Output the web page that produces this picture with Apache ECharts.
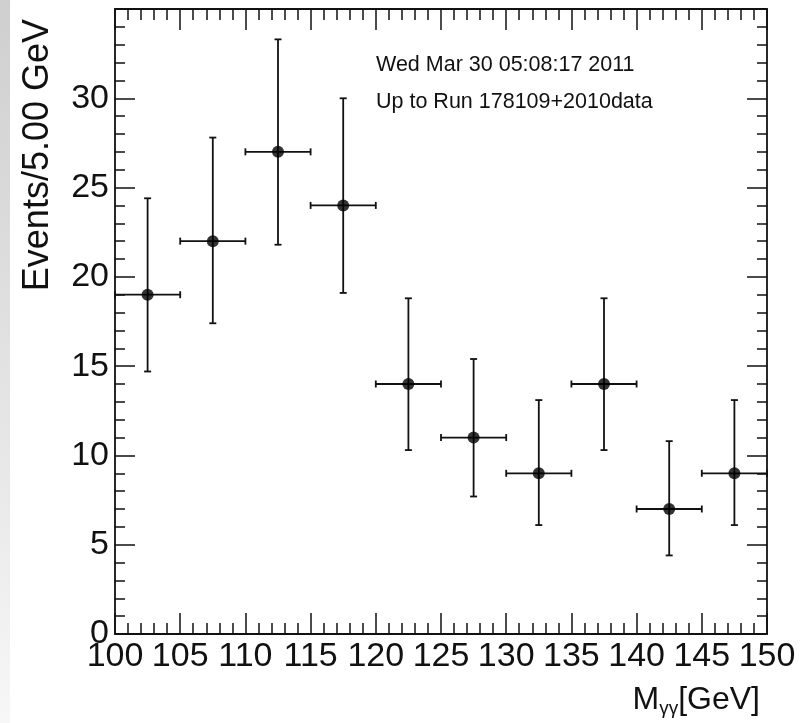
<!DOCTYPE html>
<html>
<head>
<meta charset="utf-8">
<script src="https://cdn.jsdelivr.net/npm/echarts@6/dist/echarts.min.js"></script>
<style>
  html, body { margin: 0; padding: 0; background: #fff; }
  #chart { width: 805px; height: 723px; }
</style>
</head>
<body>
<div id="chart"></div>
<script>
  // histogram bins (GeV), 5 GeV wide
  var binCenters = [102.5, 107.5, 112.5, 117.5, 122.5, 127.5, 132.5, 137.5, 142.5, 147.5]
  var counts     = [19, 22, 27, 24, 14, 11, 9, 14, 7, 9]
  var errLow     = [14.7, 17.4, 21.8, 19.1, 10.3, 7.7, 6.1, 10.3, 4.4, 6.1]
  var errHigh    = [24.4, 27.8, 33.3, 30.0, 18.8, 15.4, 13.1, 18.8, 10.8, 13.1]
  var halfBin = 2.5

  var font = "'Liberation Sans', Arial, Helvetica, sans-serif"

  var points = binCenters.map(function (x, i) { return [x, counts[i]] })
  var bars = binCenters.map(function (x, i) { return [x, counts[i], errLow[i], errHigh[i]] })

  function errorBar(params, api) {
    var x = api.value(0), y = api.value(1)
    var lo = api.coord([x, api.value(2)])
    var hi = api.coord([x, api.value(3)])
    var l = api.coord([x - halfBin, y])
    var r = api.coord([x + halfBin, y])
    var cap = 3.5
    var st = {stroke: '#111', lineWidth: 1.8}
    function seg(x1, y1, x2, y2) {
      return {type: 'line', shape: {x1: x1, y1: y1, x2: x2, y2: y2}, style: st}
    }
    return {
      type: 'group',
      children: [
        seg(lo[0], lo[1], hi[0], hi[1]),
        seg(lo[0] - cap, lo[1], lo[0] + cap, lo[1]),
        seg(hi[0] - cap, hi[1], hi[0] + cap, hi[1]),
        seg(l[0], l[1], r[0], r[1]),
        seg(l[0], l[1] - cap, l[0], l[1] + cap),
        seg(r[0], r[1] - cap, r[0], r[1] + cap)
      ]
    }
  }

  function xAx(pos, labels) {
    return {
      type: 'value', position: pos, min: 100, max: 150, interval: 5,
      axisLine: {show: true, onZero: false, lineStyle: {color: '#111', width: 1.8}},
      axisTick: {show: true, inside: true, length: 21, lineStyle: {color: '#111', width: 1.5}},
      minorTick: {show: true, splitNumber: 5, length: 11, lineStyle: {color: '#111', width: 1.5}},
      splitLine: {show: false},
      axisLabel: {show: labels, margin: 6, color: '#111', fontSize: 34, fontFamily: font,
        showMinLabel: true, showMaxLabel: true}
    }
  }

  function yAx(pos, labels) {
    return {
      type: 'value', position: pos, min: 0, max: 35, interval: 5,
      axisLine: {show: true, onZero: false, lineStyle: {color: '#111', width: 1.8}},
      axisTick: {show: true, inside: true, length: 20, lineStyle: {color: '#111', width: 1.5}},
      minorTick: {show: true, splitNumber: 5, length: 10, lineStyle: {color: '#111', width: 1.5}},
      splitLine: {show: false},
      axisLabel: {show: labels, margin: 6, color: '#111', fontSize: 34, fontFamily: font,
        formatter: function (v) { return v < 35 ? String(v) : '' }}
    }
  }

  var chart = echarts.init(document.getElementById('chart'), null, {renderer: 'canvas'})
  chart.setOption({
    backgroundColor: '#fff',
    animation: false,
    grid: {left: 115, right: 38, top: 9, bottom: 89, containLabel: false},
    xAxis: [xAx('bottom', true), xAx('top', false)],
    yAxis: [yAx('left', true), yAx('right', false)],
    title: {
      right: 40, top: 678,
      text: '{m|M}{s|γγ}{m|[GeV]}',
      textStyle: {
        rich: {
          m: {fontSize: 32, fontWeight: 'normal', fontFamily: font, color: '#111'},
          s: {fontSize: 19, fontWeight: 'normal', fontFamily: font, color: '#111', padding: [16, 0, 0, 0]}
        }
      }
    },
    graphic: [
      {
        type: 'rect', left: 0, top: 0, z: -1,
        shape: {width: 10, height: 723},
        style: {fill: new echarts.graphic.LinearGradient(0, 0, 0, 1, [
          {offset: 0, color: '#cfcfcf'}, {offset: 0.6, color: '#e6e6e6'}, {offset: 1, color: '#f7f7f7'}
        ])}
      },
      {
        type: 'text', x: 38, y: 19, rotation: Math.PI / 2,
        style: {text: 'Events/5.00 GeV', fontSize: 36, fontFamily: font, fill: '#111',
          align: 'right', verticalAlign: 'middle'}
      },
      {
        type: 'text', x: 376, y: 65,
        style: {text: 'Wed Mar 30 05:08:17 2011', fontSize: 21.5, fontFamily: font, fill: '#111',
          align: 'left', verticalAlign: 'middle'}
      },
      {
        type: 'text', x: 376, y: 102,
        style: {text: 'Up to Run 178109+2010data', fontSize: 21.5, fontFamily: font, fill: '#111',
          align: 'left', verticalAlign: 'middle'}
      }
    ],
    series: [
      {
        type: 'custom', xAxisIndex: 0, yAxisIndex: 0,
        renderItem: errorBar, data: bars, z: 2
      },
      {
        type: 'scatter', xAxisIndex: 0, yAxisIndex: 0,
        data: points, symbol: 'circle', symbolSize: 12,
        itemStyle: {color: '#000'}, z: 3
      }
    ]
  })
</script>
</body>
</html>
